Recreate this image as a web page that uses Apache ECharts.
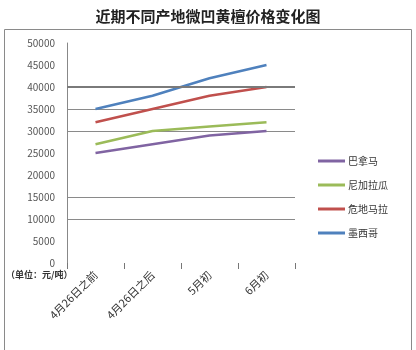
<!DOCTYPE html>
<html>
<head>
<meta charset="utf-8">
<script src="https://cdn.jsdelivr.net/npm/echarts@6/dist/echarts.min.js"></script>
<style>
  html, body { margin: 0; padding: 0; background: #fff; }
  #chart { width: 416px; height: 350px; }
</style>
</head>
<body>
<div id="chart"></div>
<script>
// Price periods
const categories = ['4月26日之前', '4月26日之后', '5月初', '6月初'];
// Prices by origin (元/吨)
const panama = [25000, 27000, 29000, 30000];
const nicaragua = [27000, 30000, 31000, 32000];
const guatemala = [32000, 35000, 38000, 40000];
const mexico = [35000, 38000, 42000, 45000];
const seriesNames = ['巴拿马', '尼加拉瓜', '危地马拉', '墨西哥'];
const seriesData = [panama, nicaragua, guatemala, mexico];
const seriesColors = ['#8064A2', '#9BBB59', '#C0504D', '#4F81BD'];

const font = '"Noto Sans CJK SC", "Noto Sans", sans-serif';
const chart = echarts.init(document.getElementById('chart'));

chart.setOption({
  animation: false,
  backgroundColor: '#fff',
  title: {
    text: '近期不同产地微凹黄檀价格变化图',
    left: 'center',
    top: 4,
    textStyle: { fontFamily: font, fontSize: 15, fontWeight: 'bold', color: '#222' }
  },
  graphic: [
    {
      type: 'rect',
      shape: { x: 4.5, y: 29.5, width: 407, height: 330 },
      style: { fill: 'none', stroke: '#8a8a8a', lineWidth: 1 },
      silent: true
    },
    {
      type: 'text',
      left: 6,
      top: 270,
      style: { text: '（单位：元/吨）', font: 'bold 9px ' + font, fill: '#333' }
    }
  ],
  legend: {
    orient: 'vertical',
    left: 313,
    top: 151,
    itemGap: 14,
    itemWidth: 27,
    itemHeight: 3,
    icon: 'rect',
    textStyle: { fontFamily: font, fontSize: 10, color: '#333', padding: [0, 0, 0, -2] },
    data: seriesNames
  },
  grid: { left: 67, right: 121, top: 43, bottom: 87 },
  xAxis: {
    type: 'category',
    data: categories,
    boundaryGap: true,
    axisLine: { show: false },
    axisTick: { show: true, length: 6, lineStyle: { color: '#777' } },
    axisLabel: {
      rotate: 45,
      margin: 10,
      fontFamily: font,
      fontSize: 11,
      color: '#333'
    }
  },
  yAxis: {
    type: 'value',
    min: 0,
    max: 50000,
    interval: 5000,
    axisLine: { show: true, lineStyle: { color: '#888' } },
    axisTick: { show: false },
    axisLabel: {
      margin: 12,
      fontFamily: font,
      fontSize: 10,
      color: '#555',
      formatter: (v) => String(v)
    },
    splitLine: {
      show: true,
      lineStyle: {
        width: 1,
        color: ['rgba(0,0,0,0)', 'rgba(0,0,0,0)', '#8a8a8a', '#8a8a8a',
                'rgba(0,0,0,0)', 'rgba(0,0,0,0)', '#8a8a8a', '#8a8a8a',
                '#7a7a7a', 'rgba(0,0,0,0)', 'rgba(0,0,0,0)']
      }
    }
  },
  series: seriesNames.map((name, i) => ({
    name: name,
    type: 'line',
    data: seriesData[i],
    symbol: 'none',
    color: seriesColors[i],
    lineStyle: { width: 2.5, color: seriesColors[i] },
    markLine: i === 0 ? {
      silent: true,
      symbol: 'none',
      label: { show: false },
      lineStyle: { color: '#7a7a7a', width: 2, type: 'solid' },
      data: [{ yAxis: 40000 }]
    } : undefined
  }))
});
</script>
</body>
</html>
